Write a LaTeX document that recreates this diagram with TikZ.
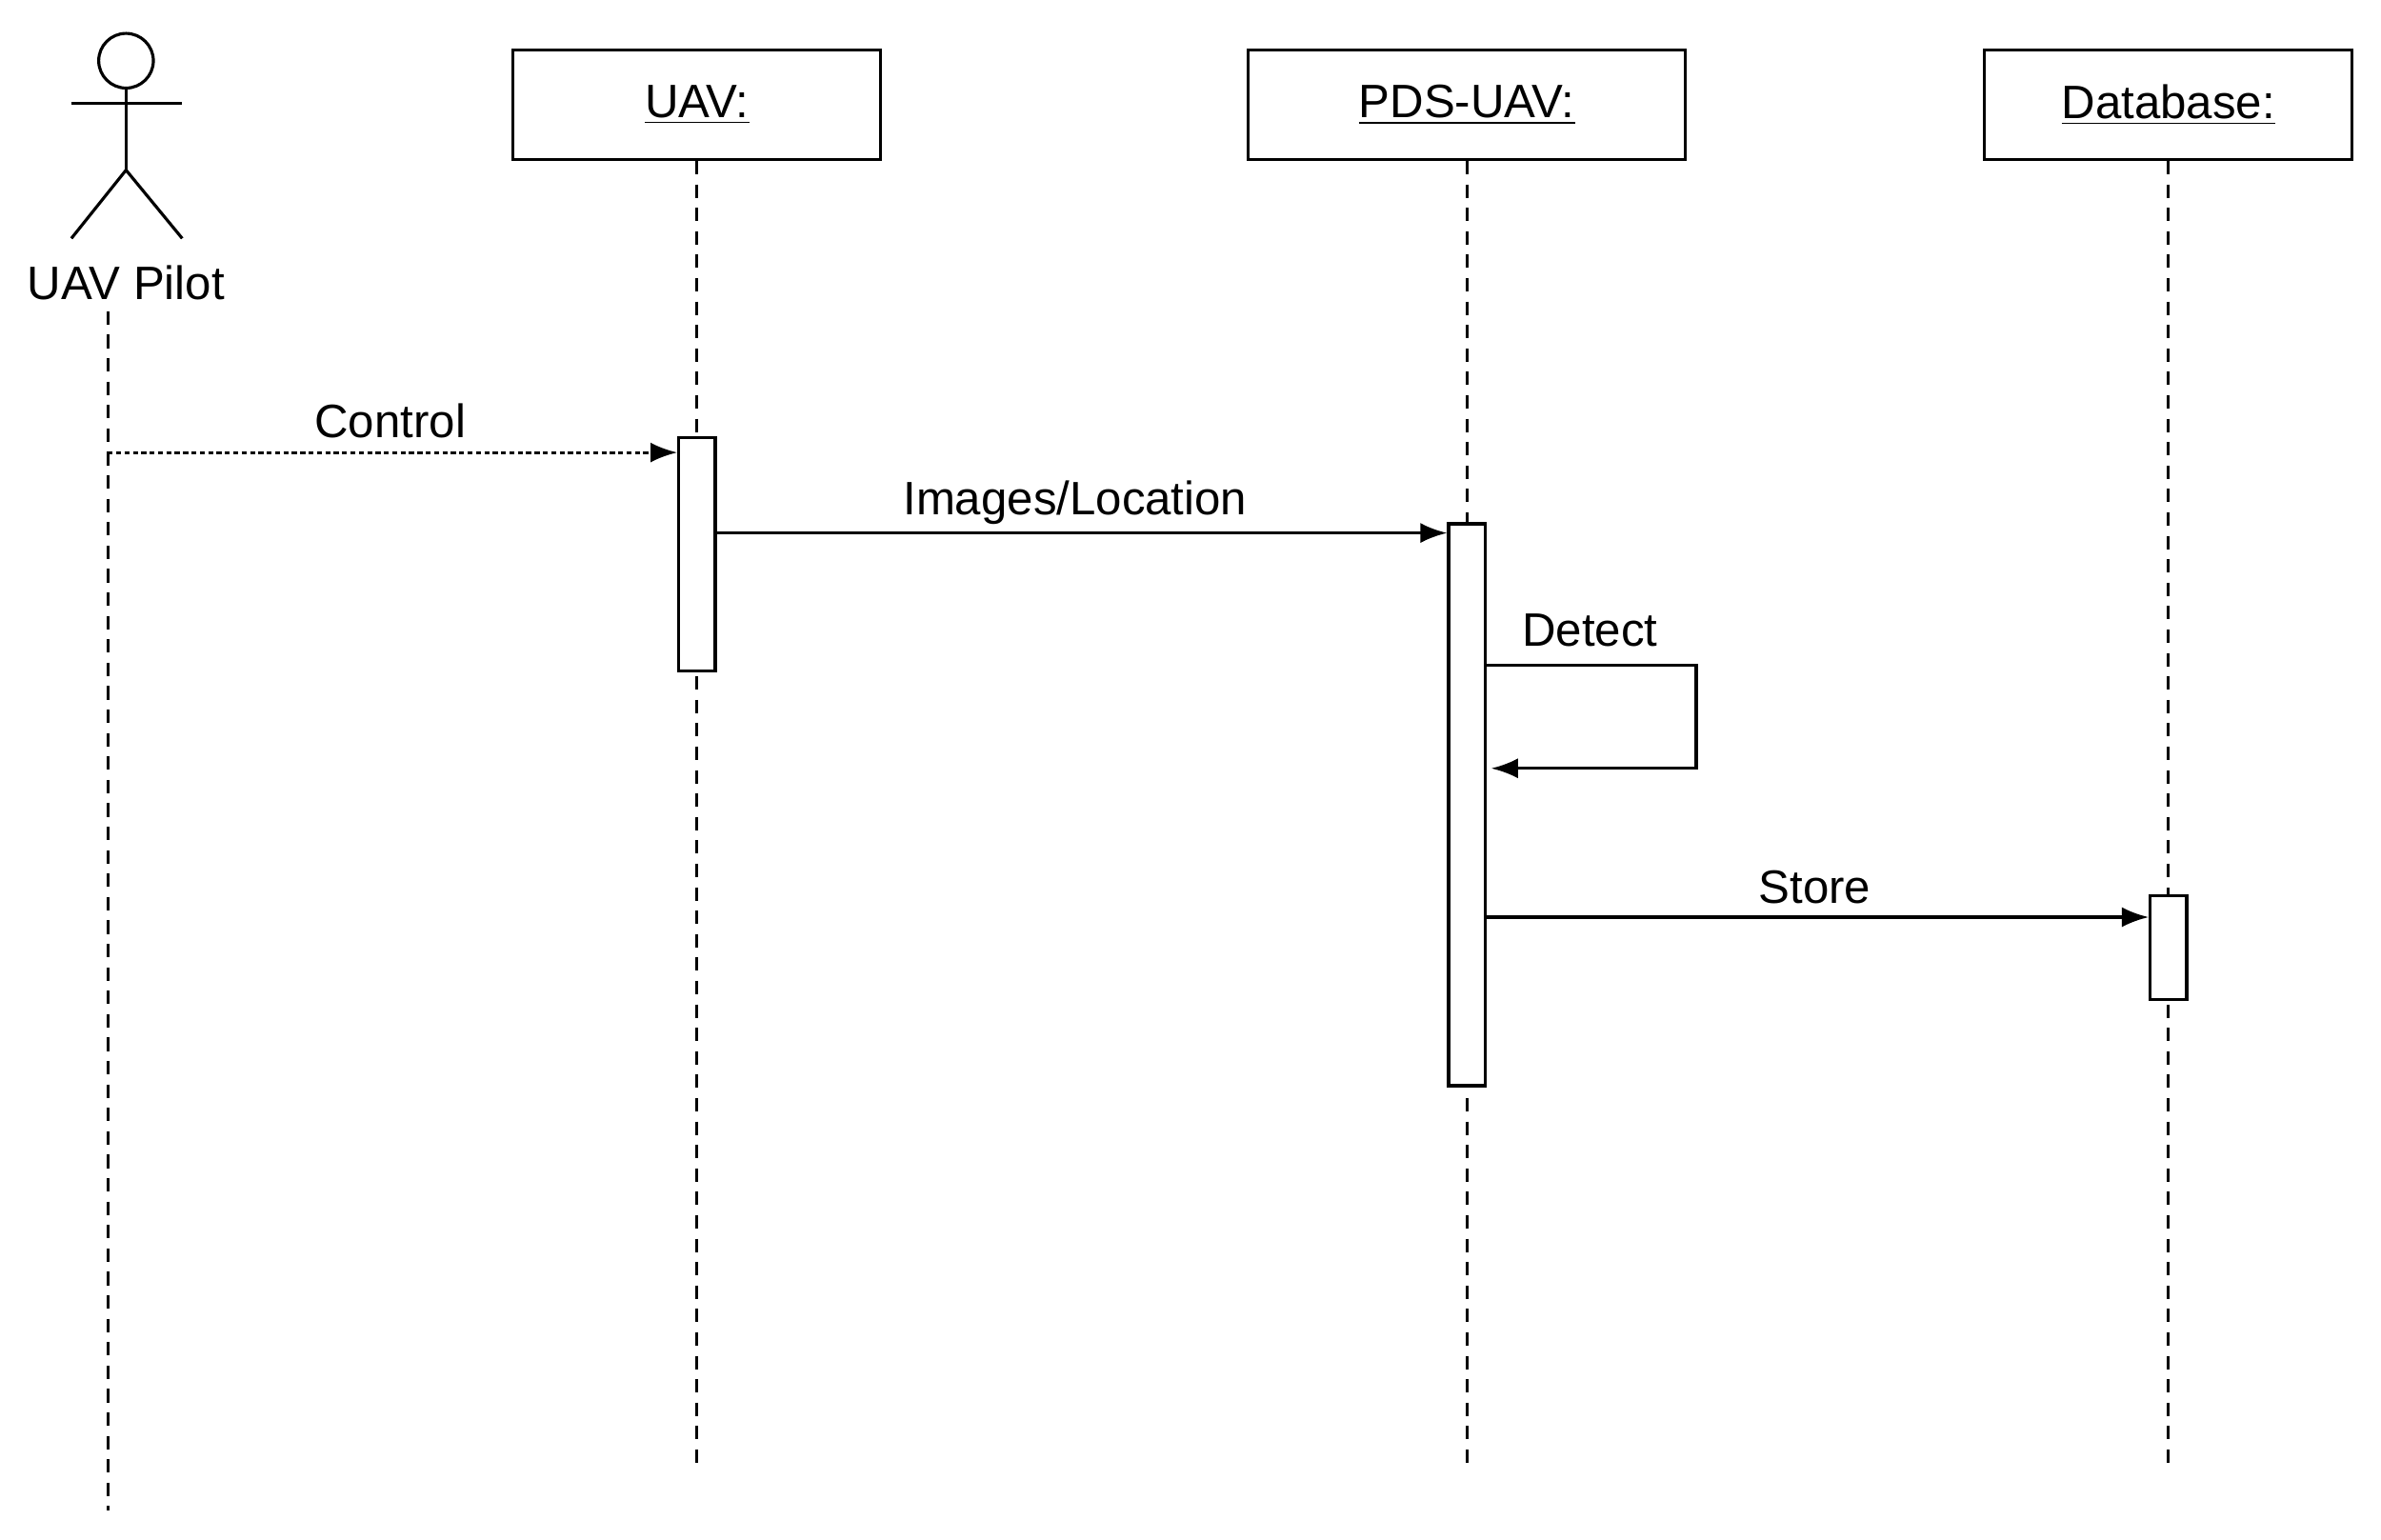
\documentclass[tikz,border=0pt]{standalone}
\usepackage{fontspec}
\setmainfont{Liberation Sans}
\usetikzlibrary{arrows.meta}
\begin{document}
\begin{tikzpicture}[x=0.01594cm,y=-0.01594cm,line width=0.9pt,
  lbl/.style={font=\fontsize{14}{16}\selectfont,inner sep=0pt},
  obj/.style={draw,minimum width=#1*0.01594cm,minimum height=72*0.01594cm,font=\fontsize{14}{16}\selectfont},
  act/.style={draw,fill=white,minimum width=24*0.01594cm,inner sep=0pt},
  life/.style={dash pattern=on 4pt off 3pt},
  msg/.style={-{Latex[length=8pt,width=6pt]}}]
\useasboundingbox (0,0) rectangle (1568,1013.6);
% actor
\draw (83,40) circle (18);
\draw (83,58) -- (83,112);
\draw (47,68) -- (120,68);
\draw (47,157) -- (83,112) -- (120,157);
\node[lbl] (pilot) at (83,186) {UAV Pilot};
% objects
\node[obj=242] (uav) at (459,69) {\underline{UAV:}};
\node[obj=288] (pds) at (966,69) {\underline{PDS-UAV:}};
\node[obj=242] (db) at (1428,69) {\underline{Database:}};
% lifelines
\coordinate (pe) at (71,995);
\coordinate (ue) at (459,970);
\coordinate (de) at (966,970);
\coordinate (be) at (1428,970);
\draw[life] (71,205) -- (pe);
\draw[life] (uav.south) -- (ue);
\draw[life] (pds.south) -- (de);
\draw[life] (db.south) -- (be);
% activations
\node[act,minimum height=154*0.01594cm] (ua) at (459,365) {};
\node[act,minimum height=370*0.01594cm] (pa) at (966,530) {};
\node[act,minimum height=68*0.01594cm] (ba) at (1428,624) {};
% messages
\coordinate (c0) at (71,298);
\draw[msg,dash pattern=on 1.5pt off 1pt] (c0) -- (ua.west |- c0);
\node[lbl] (lc) at (257,277) {Control};
\coordinate (i0) at (471,351);
\draw[msg] (i0) -- (pa.west |- i0);
\node[lbl] (li) at (708,331) {Images/Location};
\coordinate (d0) at (978,438);
\coordinate (d1) at (1117,438);
\coordinate (d2) at (1117,506);
\coordinate (d3) at (982,506);
\draw[msg] (d0) -- (d1) -- (d2) -- (d3);
\node[lbl] (ld) at (1047,415) {Detect};
\coordinate (s0) at (978,604);
\draw[msg] (s0) -- (ba.west |- s0);
\node[lbl] (ls) at (1195,584) {Store};
\end{tikzpicture}
\end{document}
